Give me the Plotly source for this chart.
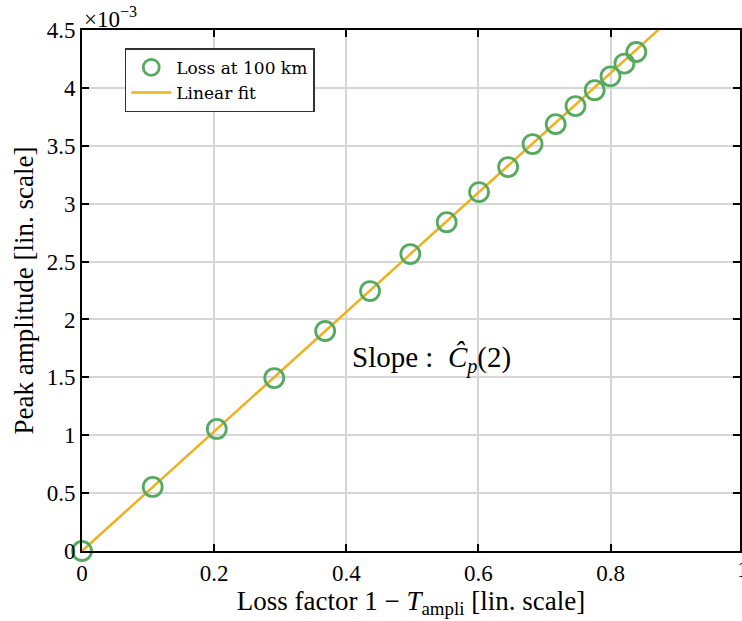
import plotly.graph_objects as go

loss_factor = [0, 0.107, 0.204, 0.291, 0.368, 0.436, 0.497, 0.552, 0.601, 0.645,
               0.682, 0.717, 0.747, 0.776, 0.800, 0.821, 0.839]
peak_amp = [0, 0.553e-3, 1.054e-3, 1.494e-3, 1.90e-3, 2.245e-3, 2.565e-3, 2.84e-3,
            3.10e-3, 3.316e-3, 3.515e-3, 3.687e-3, 3.843e-3, 3.98e-3, 4.10e-3,
            4.21e-3, 4.31e-3]
fit_x = [0, 1]
fit_y = [0, 5.16e-3]

y_tickvals = [0, 0.5e-3, 1e-3, 1.5e-3, 2e-3, 2.5e-3, 3e-3, 3.5e-3, 4e-3, 4.5e-3]
y_ticktext = ["0", "0.5", "1", "1.5", "2", "2.5", "3", "3.5", "4", "4.5"]
x_tickvals = [0, 0.2, 0.4, 0.6, 0.8, 1]
x_ticktext = ["0", "0.2", "0.4", "0.6", "0.8", "1"]

FONT = "Liberation Serif"
GREEN = "#55aa60"
ORANGE = "#EDB120"

fig = go.Figure()
fig.add_trace(go.Scatter(
    x=fit_x, y=fit_y, mode="lines", name="Linear fit",
    line=dict(color=ORANGE, width=2.5), showlegend=False))
fig.add_trace(go.Scatter(
    x=loss_factor, y=peak_amp, mode="markers", name="Loss at 100 km",
    marker=dict(symbol="circle-open", size=19, color=GREEN, line=dict(width=2.8, color=GREEN)),
    cliponaxis=False))
fig.add_trace(go.Scatter(
    x=[None], y=[None], mode="lines", name="Linear fit",
    line=dict(color=ORANGE, width=2.5)))

fig.update_layout(
    width=742, height=621,
    margin=dict(l=82, r=0, t=30, b=70),
    plot_bgcolor="white", paper_bgcolor="white",
    font=dict(family=FONT, size=23, color="black"),
    showlegend=True,
    legend=dict(x=0.065, y=0.965, xanchor="left", yanchor="top",
                bgcolor="white", bordercolor="#333333", borderwidth=1.5,
                font=dict(family="DejaVu Serif", size=17), tracegroupgap=0,
                itemwidth=40),
    xaxis=dict(range=[0, 0.996], tickvals=x_tickvals, ticktext=x_ticktext,
               tickfont=dict(family=FONT, size=23),
               showgrid=True, gridcolor="#d6d6d6", gridwidth=1.5,
               showline=True, linecolor="black", linewidth=2, mirror="ticks",
               ticks="inside", ticklen=7, tickwidth=2, tickcolor="black",
               zeroline=False,
               title=dict(text="Loss factor 1 − <i>T</i><sub>ampli</sub> [lin. scale]",
                          font=dict(family=FONT, size=27), standoff=4)),
    yaxis=dict(range=[0, 4.5e-3], tickvals=y_tickvals, ticktext=y_ticktext,
               tickfont=dict(family=FONT, size=23),
               showgrid=True, gridcolor="#d6d6d6", gridwidth=1.5,
               showline=True, linecolor="black", linewidth=2, mirror="ticks",
               ticks="inside", ticklen=7, tickwidth=2, tickcolor="black",
               zeroline=False,
               title=dict(text="Peak amplitude [lin. scale]",
                          font=dict(family=FONT, size=27), standoff=5)),
    annotations=[
        dict(text="×10<sup>−3</sup>", xref="paper", yref="paper", x=0.0, y=1.0,
             xanchor="left", yanchor="bottom", showarrow=False,
             font=dict(family=FONT, size=23), yshift=-4),
        dict(text="1", xref="paper", yref="paper", x=1.004, y=0,
             xanchor="center", yanchor="top", showarrow=False,
             font=dict(family=FONT, size=23), yshift=-4),
        dict(text="Slope :  <i>Ĉ</i><sub><i>p</i></sub>(2)", xref="x", yref="y",
             x=0.405, y=1.65e-3, xanchor="left", yanchor="middle", showarrow=False,
             font=dict(family=FONT, size=29)),
    ],
)

fig.write_html("out.html")
